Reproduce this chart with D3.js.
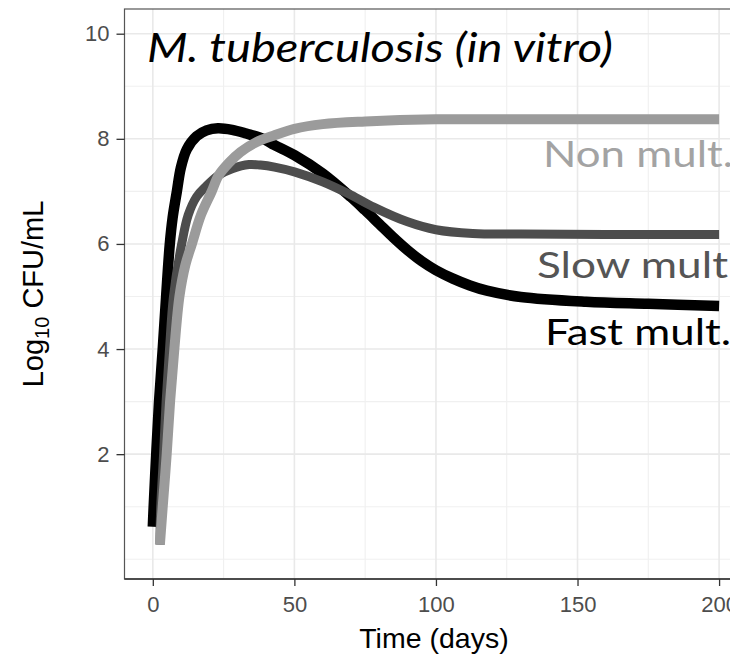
<!DOCTYPE html>
<html><head><meta charset="utf-8">
<script src="https://cdn.jsdelivr.net/npm/d3@7"></script>
<style>body{margin:0;background:#fff;overflow:hidden} svg{display:block}</style>
</head><body>
<script>
// ---- data ----
const fastDays = [0, 0.3, 1.2, 2.2, 3.5, 4.7, 6.0, 7.0, 8.5, 9.9, 12, 15.5, 19, 23, 28, 33, 39, 43, 50, 60, 70, 75, 80, 85, 90, 95, 100, 106, 112, 118, 130, 153, 175, 200];
const fastLog  = [0.62, 1.0, 2.0, 3.0, 4.0, 5.0, 6.0, 6.5, 7.0, 7.45, 7.8, 8.05, 8.16, 8.2, 8.17, 8.1, 8.0, 7.88, 7.69, 7.34, 6.89, 6.64, 6.38, 6.12, 5.88, 5.67, 5.5, 5.34, 5.21, 5.11, 4.99, 4.9, 4.86, 4.82];

const slowDays = [2.5, 2.8, 3.8, 4.7, 5.9, 7.3, 10.2, 12.5, 15.5, 18.5, 23, 28, 34, 38, 43, 50, 60, 70, 78, 90, 100, 113, 130, 160, 200];
const slowLog  = [0.28, 1.0, 2.0, 3.0, 4.0, 5.0, 6.0, 6.55, 6.9, 7.08, 7.3, 7.43, 7.51, 7.5, 7.46, 7.37, 7.18, 6.93, 6.7, 6.42, 6.27, 6.2, 6.19, 6.18, 6.18];

const nonDays = [2.5, 3.5, 4.9, 6.1, 7.6, 9.4, 11.5, 13.8, 17, 20.8, 23.2, 27, 31, 36.7, 42.6, 50, 60, 75, 100, 150, 200];
const nonLog  = [0.28, 1.0, 2.0, 3.0, 4.0, 5.0, 5.6, 6.0, 6.55, 7.0, 7.3, 7.55, 7.75, 7.94, 8.06, 8.19, 8.28, 8.33, 8.37, 8.37, 8.37];

const seriesNames = ["Fast mult.", "Slow mult", "Non mult."];
const xTicks = [0, 50, 100, 150, 200];
const xMinor = [25, 75, 125, 175];
const yTicks = [2, 4, 6, 8, 10];
const yMinor = [0, 1, 3, 5, 7, 9];
const titleText = "M. tuberculosis (in vitro)";
const xTitle = "Time (days)";

// ---- drawing ----
(function () {
const W = 730, H = 655;
const svg = d3.select("body").append("svg").attr("width", W).attr("height", H);

const x = d3.scaleLinear().domain([-10, 210]).range([124.5, 747.4]);
const y = d3.scaleLinear().domain([-0.375, 10.47]).range([579, 9]);
const pL = x.range()[0], pR = x.range()[1], pT = y.range()[1], pB = y.range()[0];

svg.append("clipPath").attr("id", "panel").append("rect")
  .attr("x", pL).attr("y", pT).attr("width", pR - pL).attr("height", pB - pT);

const grid = svg.append("g");
grid.selectAll(".vmin").data(xMinor).join("line")
  .attr("x1", d => x(d)).attr("x2", d => x(d)).attr("y1", pT).attr("y2", pB)
  .attr("stroke", "#f0f0f0").attr("stroke-width", 1.1);
grid.selectAll(".hmin").data(yMinor).join("line")
  .attr("y1", d => y(d)).attr("y2", d => y(d)).attr("x1", pL).attr("x2", pR)
  .attr("stroke", "#f0f0f0").attr("stroke-width", 1.1);
grid.selectAll(".vmaj").data(xTicks).join("line")
  .attr("x1", d => x(d)).attr("x2", d => x(d)).attr("y1", pT).attr("y2", pB)
  .attr("stroke", "#e9e9e9").attr("stroke-width", 1.6);
grid.selectAll(".hmaj").data(yTicks).join("line")
  .attr("y1", d => y(d)).attr("y2", d => y(d)).attr("x1", pL).attr("x2", pR)
  .attr("stroke", "#e9e9e9").attr("stroke-width", 1.6);

const series = [
  {name: seriesNames[0], days: fastDays, vals: fastLog, color: "#000000", w: 10.5},
  {name: seriesNames[1], days: slowDays, vals: slowLog, color: "#4d4d4d", w: 9},
  {name: seriesNames[2], days: nonDays, vals: nonLog, color: "#9b9b9b", w: 10}
];
const line = d3.line().x(d => x(d[0])).y(d => y(d[1])).curve(d3.curveCatmullRom.alpha(0.5));
const lines = svg.append("g").attr("clip-path", "url(#panel)");
series.forEach(s => {
  lines.append("path").datum(s.days.map((t, i) => [t, s.vals[i]]))
    .attr("d", line).attr("fill", "none").attr("stroke", s.color)
    .attr("stroke-width", s.w).attr("stroke-linecap", "butt").attr("stroke-linejoin", "round");
});

// border
svg.append("rect").attr("x", pL).attr("y", pT).attr("width", pR - pL).attr("height", pB - pT)
  .attr("fill", "none").attr("stroke", "#555").attr("stroke-width", 1.2);
svg.append("line").attr("x1", pL).attr("x2", pR).attr("y1", pB).attr("y2", pB)
  .attr("stroke", "#333").attr("stroke-width", 1.6);

// axes
const xa = svg.append("g").attr("transform", `translate(0,${pB})`)
  .call(d3.axisBottom(x).tickValues(xTicks).tickSize(7).tickPadding(10).tickFormat(d3.format("d")));
const ya = svg.append("g").attr("transform", `translate(${pL},0)`)
  .call(d3.axisLeft(y).tickValues(yTicks).tickSize(8).tickPadding(7).tickFormat(d3.format("d")));
[xa, ya].forEach(a => {
  a.select(".domain").remove();
  a.selectAll(".tick line").attr("stroke", "#333").attr("stroke-width", 1.3);
  a.selectAll(".tick text").attr("fill", "#4d4d4d").style("font-family", "Liberation Sans, Arial, sans-serif").style("font-size", "22px");
});

// axis titles
svg.append("text").attr("x", (pL + pR) / 2 - 2).attr("y", 648).attr("text-anchor", "middle")
  .style("font-family", "Liberation Sans, Arial, sans-serif").style("font-size", "28.5px").attr("fill", "#000")
  .text(xTitle);
const yt = svg.append("text").attr("transform", `translate(43,${(pT + pB) / 2}) rotate(-90)`)
  .attr("text-anchor", "middle")
  .style("font-family", "Liberation Sans, Arial, sans-serif").style("font-size", "29px").attr("fill", "#000");
yt.append("tspan").text("Log");
yt.append("tspan").text("10").style("font-size", "20px").attr("dy", 6);
yt.append("tspan").text(" CFU/mL").attr("dy", -6);

// annotations
svg.append("text").attr("x", 147).attr("y", 62)
  .style("font-family", "Lato, 'Open Sans', sans-serif").style("font-style", "italic").style("font-size", "40px")
  .attr("fill", "#000").attr("textLength", 466).attr("lengthAdjust", "spacingAndGlyphs").text(titleText);

const labelPos = [
  {txt: seriesNames[0], x: 545, y: 345, fill: "#000000", len: 186},
  {txt: seriesNames[1], x: 537, y: 278, fill: "#555555", len: 191},
  {txt: seriesNames[2], x: 543, y: 167, fill: "#a3a3a3", len: 190}
];
labelPos.forEach(l => {
  svg.append("text").attr("x", l.x).attr("y", l.y)
    .style("font-family", "Lato, 'Open Sans', sans-serif").style("font-size", "37px")
    .attr("fill", l.fill).attr("textLength", l.len).attr("lengthAdjust", "spacingAndGlyphs").text(l.txt);
});
})();
</script>
</body></html>
